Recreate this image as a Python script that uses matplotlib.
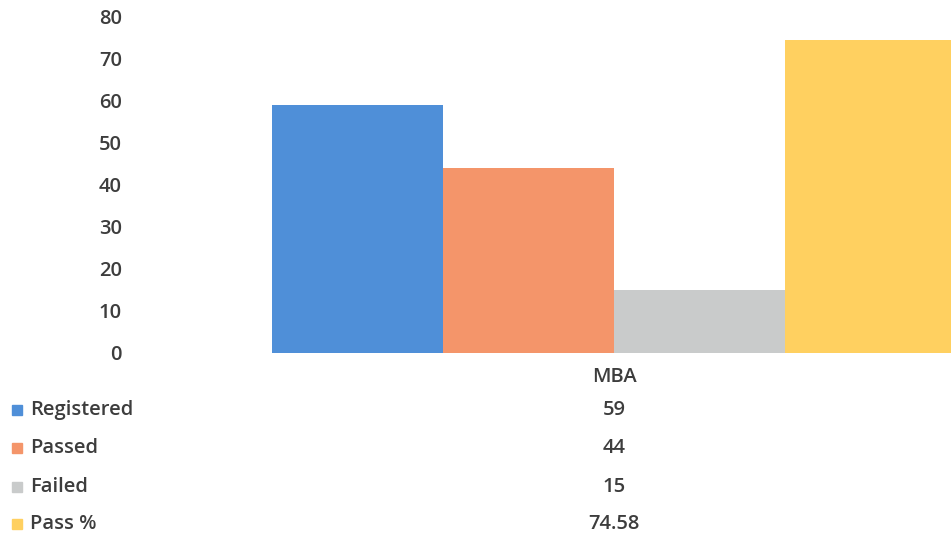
import matplotlib
matplotlib.use("Agg")
import matplotlib.pyplot as plt
from matplotlib.patches import Rectangle

# data
category = "MBA"
series = ["Registered", "Passed", "Failed", "Pass %"]
values = [59, 44, 15, 74.58]
value_labels = ["59", "44", "15", "74.58"]
colors = ["#4F8FD8", "#F4956A", "#C9CBCB", "#FFD060"]
yticks = [0, 10, 20, 30, 40, 50, 60, 70, 80]

plt.rcParams['font.family'] = ['Open Sans', 'DejaVu Sans']
plt.rcParams['font.weight'] = 600
txt_color = "#3d3d3d"
fs = 14.5

W, H = 951, 539
fig = plt.figure(figsize=(W / 100, H / 100), dpi=100)

# plot area in pixels (extends beyond right edge like the cropped original)
left_px, right_px = 140, 1088
top_px, zero_px = 17, 353
ax = fig.add_axes([left_px / W, (H - zero_px) / H,
                   (right_px - left_px) / W, (zero_px - top_px) / H])
ax.set_xlim(-0.5, 0.5)
ax.set_ylim(0, 80)

bar_w = 171 / (right_px - left_px)
n = len(values)
for i, (v, c) in enumerate(zip(values, colors)):
    x = (i - (n - 1) / 2) * bar_w
    ax.bar(x, v, width=bar_w, color=c, edgecolor="none")

ax.set_yticks(yticks)
ax.set_xticks([])
ax.tick_params(axis='y', length=0, pad=13, labelsize=fs, labelcolor=txt_color)
for s in ax.spines.values():
    s.set_visible(False)

# data table below the chart
cx = 614 / W
fig.text(cx, 1 - 377 / H, category, ha='center', va='center', fontsize=fs, color=txt_color)
row_y = [410, 448, 487, 524]
for name, lab, c, y in zip(series, value_labels, colors, row_y):
    yf = 1 - y / H
    fig.patches.append(Rectangle((12 / W, 1 - (y + 5) / H), 10 / W, 10 / H,
                                 transform=fig.transFigure, color=c, figure=fig))
    fig.text(30 / W, yf, name, ha='left', va='center', fontsize=fs, color=txt_color)
    fig.text(cx, yf, lab, ha='center', va='center', fontsize=fs, color=txt_color)

fig.savefig("out.png", dpi=100)
